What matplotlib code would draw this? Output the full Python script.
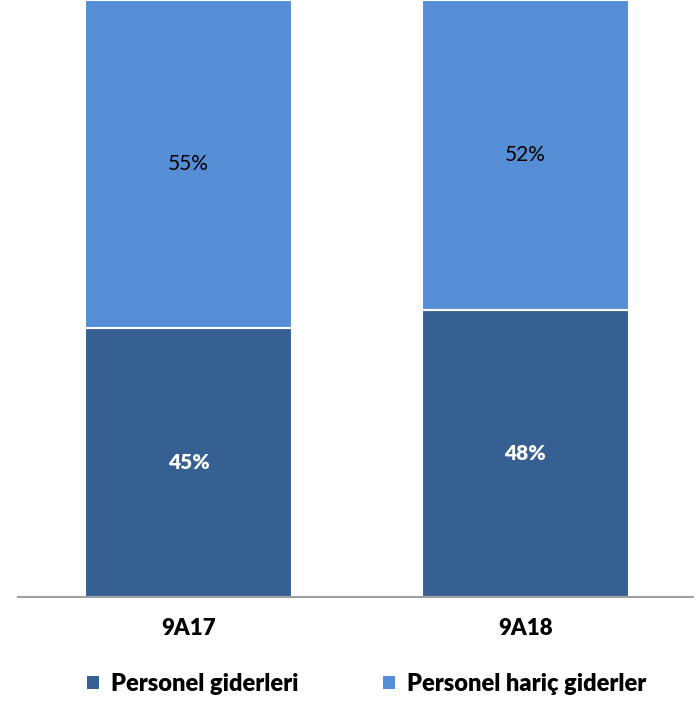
import matplotlib
matplotlib.use("Agg")
import matplotlib.pyplot as plt
from matplotlib.patches import Patch

categories = ["9A17", "9A18"]
personel = [45, 48]
personel_haric = [55, 52]
series_names = ["Personel giderleri", "Personel hariç giderler"]
colors = ["#376092", "#558ED5"]

plt.rcParams['font.family'] = ['Lato', 'DejaVu Sans']

fig = plt.figure(figsize=(6.98, 7.01), dpi=100)
ax = fig.add_axes([18 / 698, 104 / 701, 675 / 698, 597 / 701])

x = list(range(len(categories)))
width = 0.615
ax.bar(x, personel, width, color=colors[0], edgecolor="white", linewidth=1.5, zorder=2)
ax.bar(x, personel_haric, width, bottom=personel, color=colors[1],
       edgecolor="white", linewidth=1.5, zorder=2)

for xi, a, b in zip(x, personel, personel_haric):
    ax.text(xi, a / 2, f"{a}%", ha="center", va="center", color="white",
            fontsize=15, fontweight="heavy")
    ax.text(xi, a + b / 2, f"{b}%", ha="center", va="center", color="black",
            fontsize=15)

ax.set_xlim(-0.507, 1.499)
ax.set_ylim(0, 100)
for s in ["top", "right", "left"]:
    ax.spines[s].set_visible(False)
ax.spines["bottom"].set_color("#A0A0A0")
ax.spines["bottom"].set_linewidth(1.5)
ax.set_yticks([])
ax.set_xticks(x)
ax.set_xticklabels(categories, fontsize=16, fontweight="heavy")
ax.tick_params(axis="x", length=0, pad=15)

handles = [Patch(facecolor=c, edgecolor="none") for c in colors]
fig.legend(handles, series_names, loc="center", bbox_to_anchor=(0.525, 1 - 684 / 701),
           ncol=2, frameon=False, prop={"size": 17, "weight": "heavy"},
           handlelength=0.5, handleheight=0.5, handletextpad=0.5, columnspacing=3.6)

fig.savefig("out.png", dpi=100)
